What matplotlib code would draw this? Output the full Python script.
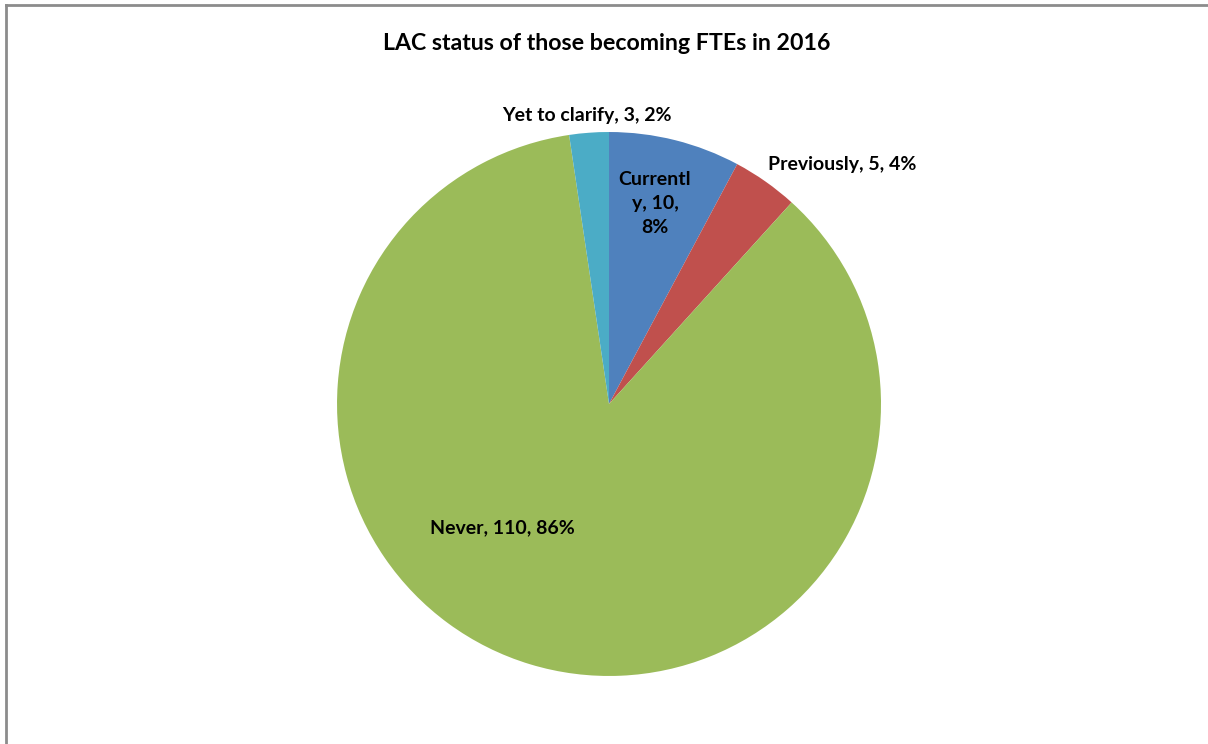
import numpy as np
import matplotlib.pyplot as plt
from matplotlib.lines import Line2D

plt.rcParams['font.family'] = ['Lato', 'DejaVu Sans']

labels = ['Currently', 'Previously', 'Never', 'Yet to clarify']
counts = [10, 5, 110, 3]
colors = ['#4F81BD', '#C0504D', '#9BBB59', '#4BACC6']
title = 'LAC status of those becoming FTEs in 2016'

total = sum(counts)
pcts = [round(100 * c / total) for c in counts]
label_text = [f'{l}, {c}, {p}%' for l, c, p in zip(labels, counts, pcts)]
label_text[0] = f'Currentl\ny, {counts[0]},\n{pcts[0]}%'  # wrapped like the original
# label positions (in pie radius units)
label_pos = [(0.169, 0.738), (0.859, 0.879), (-0.393, -0.456), (-0.081, 1.059)]

fig = plt.figure(figsize=(12.08, 7.44), dpi=100)
ax = fig.add_axes([0.279, 0.0914, 0.4503, 0.7312])
ax.pie(counts, colors=colors, startangle=90, counterclock=False,
       wedgeprops=dict(linewidth=0), radius=1)
ax.set_xlim(-1, 1)
ax.set_ylim(-1, 1)
ax.set_aspect('equal')

for txt, (x, y) in zip(label_text, label_pos):
    ax.text(x, y, txt, ha='center', va='center', fontsize=14,
            fontweight='bold', color='black', linespacing=1.5, clip_on=False)

fig.text(0.502, 0.941, title, ha='center', va='center', fontsize=16.7,
         fontweight='bold')

# chart frame (cut off at right and bottom)
fig.add_artist(Line2D([6/1208, 6/1208], [0, 1 - 5/744], color='#8c8c8c', lw=2))
fig.add_artist(Line2D([6/1208, 1], [1 - 5/744, 1 - 5/744], color='#8c8c8c', lw=2))

fig.savefig('out.png', dpi=100)
